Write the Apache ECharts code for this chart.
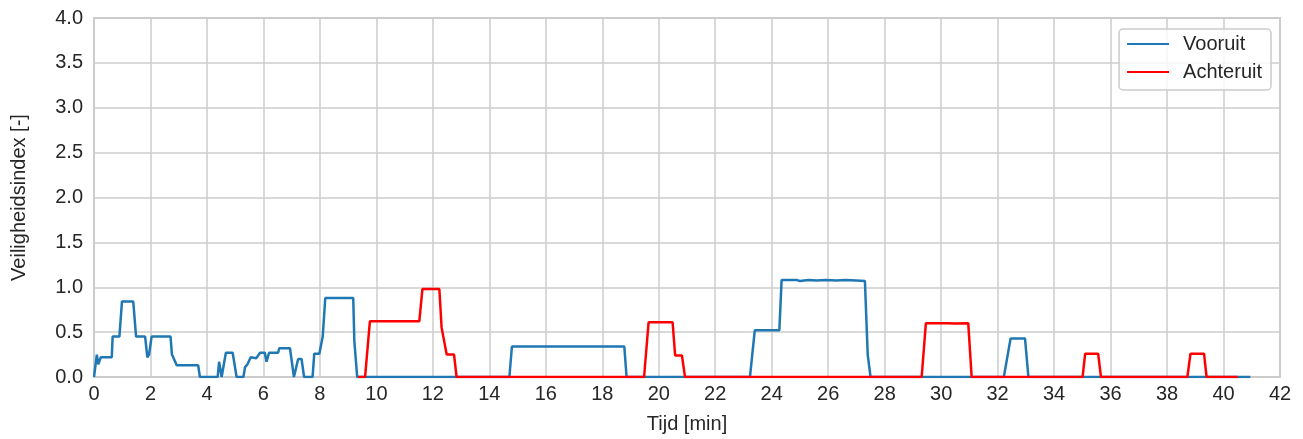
<!DOCTYPE html>
<html>
<head>
<meta charset="utf-8">
<script src="https://cdn.jsdelivr.net/npm/echarts@6/dist/echarts.min.js"></script>
<style>
  html, body { margin: 0; padding: 0; background: #fff; }
  #main { width: 1303px; height: 439px; }
</style>
</head>
<body>
<div id="main"></div>
<script>
// tijd [min], veiligheidsindex [-]
const vooruit = [
  [0, 0], [0.07, 0.02], [0.1, 0.25], [0.15, 0.14], [0.24, 0.22], [0.63, 0.22],
  [0.66, 0.45], [0.9, 0.45], [0.99, 0.84], [1.39, 0.84], [1.49, 0.45], [1.81, 0.45],
  [1.89, 0.22], [1.95, 0.25], [2.04, 0.45], [2.71, 0.45], [2.76, 0.25], [2.82, 0.24],
  [2.93, 0.13], [3.69, 0.13], [3.75, 0], [4.38, 0], [4.43, 0.17], [4.52, 0],
  [4.67, 0.27], [4.91, 0.27], [5.05, 0], [5.29, 0], [5.35, 0.11], [5.43, 0.14],
  [5.55, 0.22], [5.75, 0.21], [5.88, 0.27], [6.05, 0.27], [6.11, 0.17], [6.2, 0.27],
  [6.52, 0.27], [6.56, 0.32], [6.94, 0.32], [7.08, 0], [7.23, 0.2], [7.35, 0.2],
  [7.44, 0], [7.74, 0], [7.8, 0.26], [7.98, 0.26], [8.1, 0.45], [8.19, 0.88],
  [9.18, 0.88], [9.22, 0.4], [9.32, 0],
  [14.71, 0], [14.8, 0.34], [18.78, 0.34], [18.86, 0],
  [23.23, 0], [23.4, 0.52], [24.27, 0.52], [24.35, 1.08], [24.9, 1.08], [25.0, 1.07],
  [25.3, 1.08], [25.6, 1.075], [25.9, 1.08], [26.3, 1.075], [26.6, 1.08], [27.0, 1.075],
  [27.3, 1.07], [27.4, 0.25], [27.5, 0],
  [32.22, 0], [32.46, 0.43], [32.97, 0.43], [33.09, 0], [40.95, 0]
];
const achteruit = [
  [9.35, 0], [9.6, 0], [9.77, 0.62], [11.52, 0.62], [11.63, 0.98], [12.23, 0.98],
  [12.31, 0.55], [12.38, 0.55], [12.49, 0.25], [12.75, 0.25], [12.84, 0],
  [19.48, 0], [19.64, 0.61], [20.49, 0.61], [20.58, 0.24], [20.82, 0.24], [20.93, 0],
  [29.31, 0], [29.46, 0.6], [30.2, 0.6], [30.5, 0.595], [30.96, 0.6], [31.08, 0],
  [35.01, 0], [35.1, 0.26], [35.56, 0.26], [35.66, 0],
  [38.72, 0], [38.83, 0.26], [39.31, 0.26], [39.4, 0], [40.5, 0]
];
const xTicks = { min: 0, max: 42, interval: 2 };
const yTicks = { min: 0, max: 4, interval: 0.5 };

const font = "Liberation Sans, Arial, sans-serif";
const fs = 20;
const gridLine = { show: true, lineStyle: { color: "#cccccc", width: 1.5 } };

const chart = echarts.init(document.getElementById("main"), null, { renderer: "canvas" });
chart.setOption({
  animation: false,
  textStyle: { fontFamily: font },
  grid: {
    left: 94, right: 23, top: 18, bottom: 59,
    show: true, borderColor: "#cccccc", borderWidth: 2, backgroundColor: "#fff"
  },
  legend: {
    orient: "vertical",
    right: 32,
    top: 29,
    padding: [5, 9, 8, 7],
    itemWidth: 42,
    itemHeight: 14,
    itemGap: 8,
    backgroundColor: "rgba(255,255,255,0.8)",
    borderColor: "#cccccc",
    borderWidth: 1.5,
    borderRadius: 4,
    itemStyle: { opacity: 0 },
    textStyle: { fontSize: fs, color: "#262626", fontFamily: font, padding: [0, 0, 0, 9] },
    data: ["Vooruit", "Achteruit"]
  },
  xAxis: {
    type: "value",
    min: xTicks.min, max: xTicks.max, interval: xTicks.interval,
    name: "Tijd [min]",
    nameLocation: "middle",
    nameGap: 37,
    nameTextStyle: { fontSize: fs, color: "#262626", fontFamily: font },
    axisLine: { show: false },
    axisTick: { show: false },
    axisLabel: { fontSize: fs, color: "#262626", margin: 7, fontFamily: font },
    splitLine: gridLine
  },
  yAxis: {
    type: "value",
    min: yTicks.min, max: yTicks.max, interval: yTicks.interval,
    name: "Veiligheidsindex [-]",
    nameLocation: "middle",
    nameGap: 65,
    nameTextStyle: { fontSize: fs, color: "#262626", fontFamily: font },
    axisLine: { show: false },
    axisTick: { show: false },
    axisLabel: {
      fontSize: fs, color: "#262626", margin: 11, fontFamily: font,
      formatter: v => v.toFixed(1)
    },
    splitLine: gridLine
  },
  series: [
    {
      name: "Vooruit",
      type: "line",
      data: vooruit,
      symbol: "none",
      clip: true,
      lineStyle: { color: "#1f77b4", width: 2.5 },
      itemStyle: { color: "#1f77b4" }
    },
    {
      name: "Achteruit",
      type: "line",
      data: achteruit,
      symbol: "none",
      clip: true,
      lineStyle: { color: "#ff0000", width: 2.5 },
      itemStyle: { color: "#ff0000" }
    }
  ]
});
</script>
</body>
</html>
